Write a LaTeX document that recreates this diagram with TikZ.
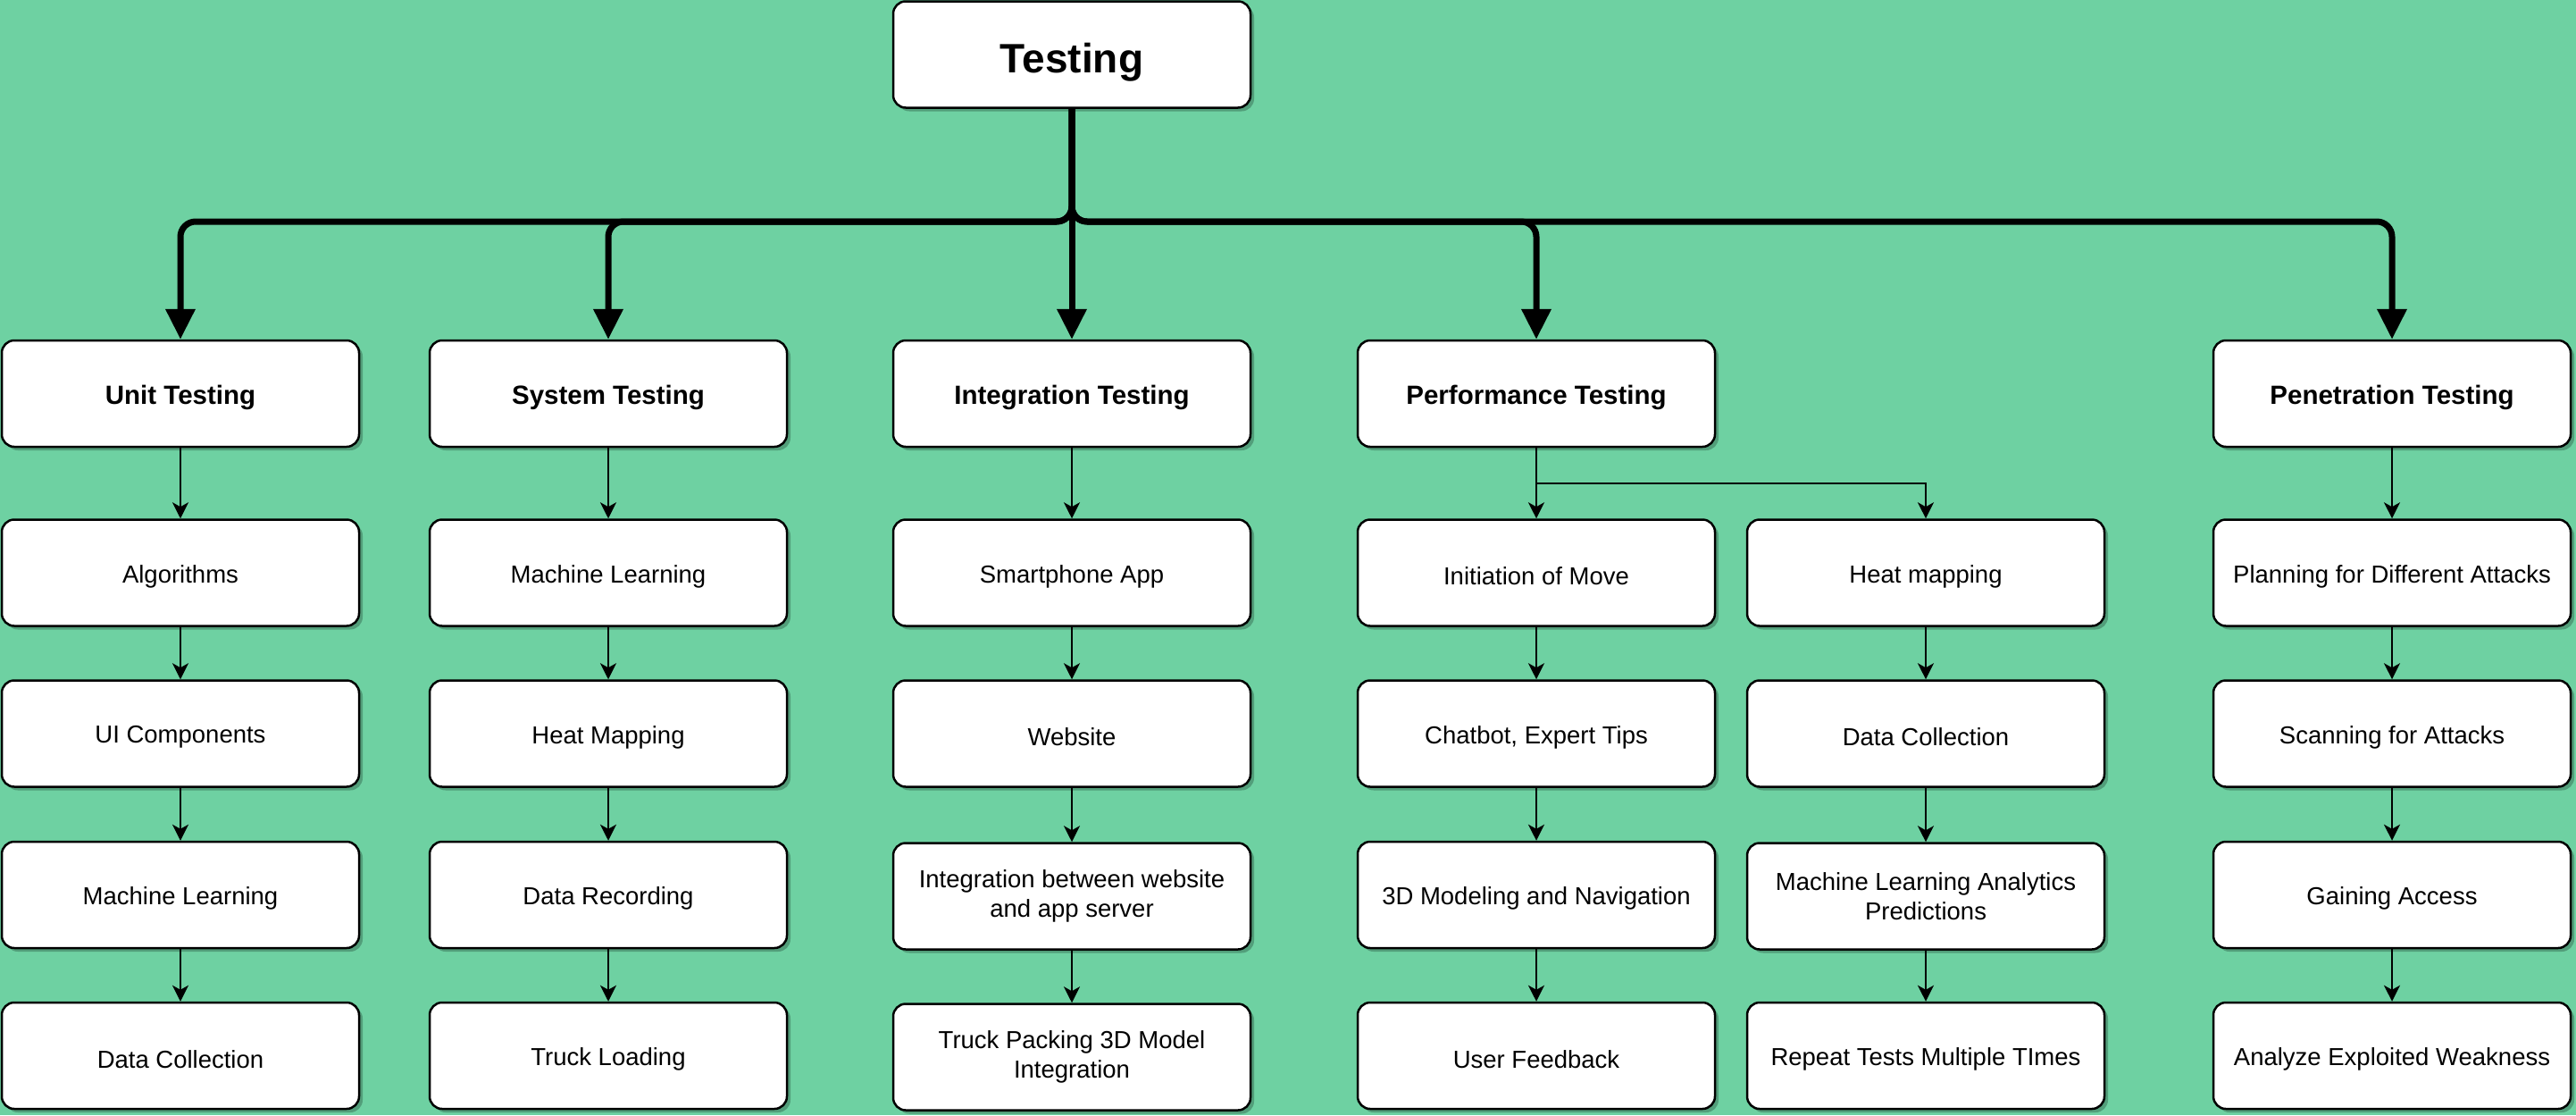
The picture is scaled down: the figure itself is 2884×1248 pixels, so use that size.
\documentclass[tikz,border=0pt]{standalone}
\usepackage{fontspec}
\setmainfont{Liberation Sans}
\usetikzlibrary{arrows.meta,shadows}
\definecolor{bg}{RGB}{110,209,162}
\definecolor{shd}{RGB}{82,158,122}
\newcommand{\tx}[1]{\raisebox{-4pt}[\height][\depth]{#1}}
\begin{document}
\begin{tikzpicture}[x=1pt,y=-1pt,
 box/.style={draw=black, line width=2.5pt, fill=white, rounded corners=14pt,
   minimum width=400pt, minimum height=119pt, inner sep=0pt, align=center,
   font=\fontsize{27.5}{32.5}\selectfont,
   drop shadow={shadow xshift=4pt,shadow yshift=-4pt,fill=shd,opacity=1}},
 head/.style={box, font=\fontsize{29.5}{34}\selectfont\bfseries},
 titlebox/.style={box, font=\fontsize{46}{52}\selectfont\bfseries},
 bus/.style={line width=7pt, rounded corners=17pt, -{Triangle[width=32pt,length=34pt]}},
 link/.style={line width=2pt, -{Stealth[width=18pt,length=18pt,inset=5pt]}}]
\fill[bg] (0,0) rectangle (2884,1248);
\useasboundingbox (0,0) rectangle (2884,1248);

% title
\node[titlebox] (T) at (1200,61) {\raisebox{-9pt}[\height][\depth]{Testing}};

% headers
\node[head] (U) at (202,440.5) {\tx{Unit Testing}};
\node[head] (S) at (681,440.5) {\tx{System Testing}};
\node[head] (I) at (1200,440.5) {\tx{Integration Testing}};
\node[head] (P) at (1720,440.5) {\tx{Performance Testing}};
\node[head] (N) at (2678,440.5) {\tx{Penetration Testing}};

% Unit column
\node[box] (U1) at (202,641) {\tx{Algorithms}};
\node[box] (U2) at (202,821) {\tx{UI Components}};
\node[box] (U3) at (202,1001.5) {\tx{Machine Learning}};
\node[box] (U4) at (202,1181.5) {\tx{Data Collection}};

% System column
\node[box] (S1) at (681,641) {\tx{Machine Learning}};
\node[box] (S2) at (681,821) {\tx{Heat Mapping}};
\node[box] (S3) at (681,1001.5) {\tx{Data Recording}};
\node[box] (S4) at (681,1181.5) {\tx{Truck Loading}};

% Integration column
\node[box] (I1) at (1200,641) {\tx{Smartphone App}};
\node[box] (I2) at (1200,821) {\tx{Website}};
\node[box] (I3) at (1200,1003) {Integration between website\\and app server};
\node[box] (I4) at (1200,1183) {Truck Packing 3D Model\\Integration};

% Performance column
\node[box] (P1) at (1720,641) {\tx{Initiation of Move}};
\node[box] (P2) at (1720,821) {\tx{Chatbot, Expert Tips}};
\node[box] (P3) at (1720,1001.5) {\tx{3D Modeling and Navigation}};
\node[box] (P4) at (1720,1181.5) {\tx{User Feedback}};

% Heat mapping column
\node[box] (H1) at (2156,641) {\tx{Heat mapping}};
\node[box] (H2) at (2156,821) {\tx{Data Collection}};
\node[box] (H3) at (2156,1003) {Machine Learning Analytics\\Predictions};
\node[box] (H4) at (2156,1181.5) {\tx{Repeat Tests Multiple TImes}};

% Penetration column
\node[box] (N1) at (2678,641) {\tx{Planning for Different Attacks}};
\node[box] (N2) at (2678,821) {\tx{Scanning for Attacks}};
\node[box] (N3) at (2678,1001.5) {\tx{Gaining Access}};
\node[box] (N4) at (2678,1181.5) {\tx{Analyze Exploited Weakness}};

% bus from title
\coordinate (b) at (1200,248);
\draw[bus] (T.south) -- (b) -| (U.north);
\draw[bus] (T.south) -- (b) -| (S.north);
\draw[bus] (T.south) -- (I.north);
\draw[bus] (T.south) -- (b) -| (P.north);
\draw[bus] (T.south) -- (b) -| (N.north);

% performance split
\coordinate (pb) at (1720,541);
\draw[link] (P.south) -- (P1.north);
\draw[link] (P.south) -- (pb) -| (H1.north);

% column links
\foreach \c in {U,S,I,N} {
  \draw[link] (\c.south) -- (\c1.north);
}
\foreach \c in {U,S,I,P,H,N} {
  \draw[link] (\c1.south) -- (\c2.north);
  \draw[link] (\c2.south) -- (\c3.north);
  \draw[link] (\c3.south) -- (\c4.north);
}
\end{tikzpicture}
\end{document}
